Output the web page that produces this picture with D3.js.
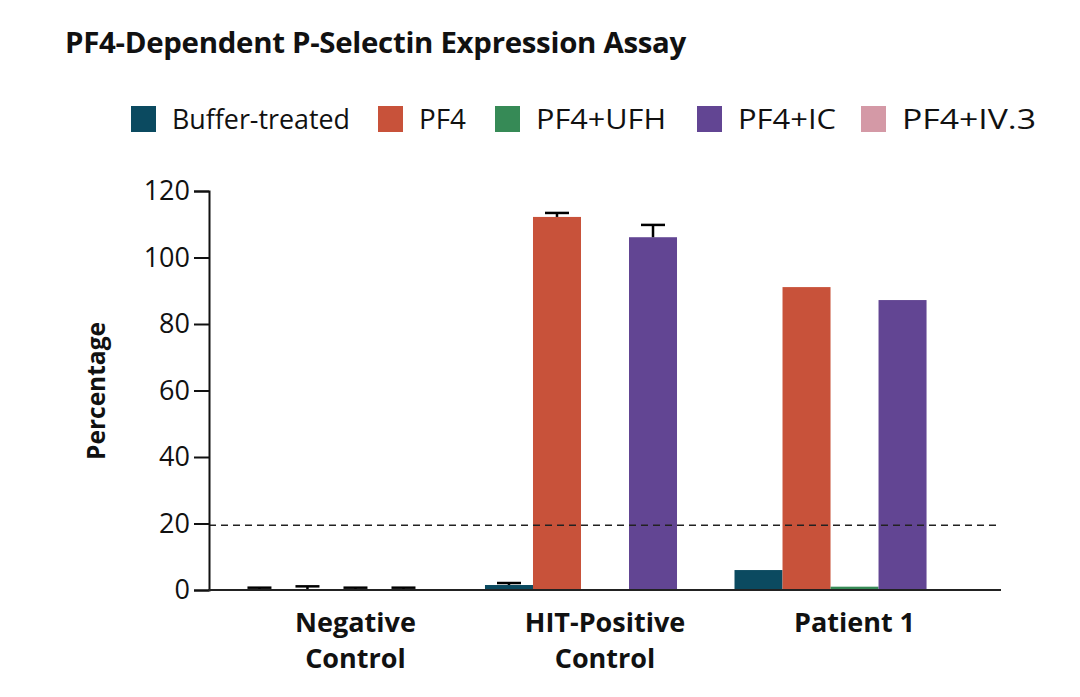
<!DOCTYPE html>
<html><head><meta charset="utf-8">
<script src="https://cdn.jsdelivr.net/npm/d3@7"></script>
<style>body{margin:0;background:#fff;} svg{display:block;} text{font-family:"Open Sans",Lato,sans-serif;fill:#111;}</style>
</head><body><svg id="c" width="1080" height="697"></svg>
<script>
const groups = ["Negative Control", "HIT-Positive Control", "Patient 1"];
const groupLines = [["Negative","Control"],["HIT-Positive","Control"],["Patient 1"]];
const series = ["Buffer-treated","PF4","PF4+UFH","PF4+IC","PF4+IV.3"];
const colors = ["#0b4a60","#c8523a","#368a56","#624593","#d499a6"];
const values = [
  [0, 0.3, 0, 0, 0],
  [1.5, 112.2, 0, 106.1, 0],
  [6.0, 91.1, 1.0, 87.2, 0]
];
const errTop = [
  [0.7, 1.1, 0.7, 0.7, null],
  [2.1, 113.4, null, 109.8, null],
  [null, null, null, null, null]
];
const yTicks = [0,20,40,60,80,100,120];
const threshold = 19.5;

// layout (not data)
const legX = [131,378,495,697,861];
const legTextW = [178,47,130,98,134];

const svg = d3.select("#c");
const y = d3.scaleLinear().domain([0,120]).range([590,191]);
const x0 = d3.scaleBand().domain(groups).range([209,1001]).paddingInner(0.038).paddingOuter(0.106);
const x1 = d3.scaleBand().domain(series).range([0,x0.bandwidth()]);

svg.append("text").attr("x",65).attr("y",53).attr("font-size",29).attr("font-weight",700).attr("letter-spacing",-0.3)
  .attr("textLength",621).attr("lengthAdjust","spacingAndGlyphs").text("PF4-Dependent P-Selectin Expression Assay");

// legend
const leg = svg.append("g");
series.forEach((s,i)=>{
  leg.append("rect").attr("x",legX[i]).attr("y",106).attr("width",25).attr("height",26).attr("fill",colors[i]);
  leg.append("text").attr("x",legX[i]+41).attr("y",128.5).attr("font-size",28)
    .attr("textLength",legTextW[i]).attr("lengthAdjust","spacingAndGlyphs").text(s);
});

// bars
const g = svg.append("g");
groups.forEach((grp,gi)=>{
  series.forEach((s,si)=>{
    const v = values[gi][si];
    const bx = x0(grp)+x1(s);
    if(v>0) g.append("rect").attr("x",bx).attr("y",y(v)).attr("width",x1.bandwidth()).attr("height",y(0)-y(v)).attr("fill",colors[si]);
    const e = errTop[gi][si];
    if(e!=null){
      const cx = bx + x1.bandwidth()/2;
      g.append("line").attr("x1",cx).attr("x2",cx).attr("y1",y(v)).attr("y2",y(e)).attr("stroke","#000").attr("stroke-width",2.5);
      g.append("line").attr("x1",cx-12).attr("x2",cx+12).attr("y1",y(e)).attr("y2",y(e)).attr("stroke","#000").attr("stroke-width",2.5);
    }
  });
});

// threshold line
svg.append("line").attr("x1",209).attr("x2",1001).attr("y1",y(threshold)).attr("y2",y(threshold))
  .attr("stroke","#222").attr("stroke-width",1.5).attr("stroke-dasharray","7,5");

// y axis
const yAxis = d3.axisLeft(y).tickValues(yTicks).tickSize(15).tickPadding(4);
const ya = svg.append("g").attr("transform","translate(209,0)").call(yAxis);
ya.select(".domain").attr("stroke","#111").attr("stroke-width",2);
ya.selectAll(".tick line").attr("stroke","#111").attr("stroke-width",2);
ya.selectAll(".tick text").attr("font-size",27).attr("font-family","'Open Sans',sans-serif").attr("fill","#111");

// x axis line
svg.append("line").attr("x1",208).attr("x2",1001).attr("y1",y(0)).attr("y2",y(0)).attr("stroke","#222").attr("stroke-width",2);

// group labels
groups.forEach((grp,gi)=>{
  const cx = x0(grp)+x0.bandwidth()/2;
  const t = svg.append("text").attr("x",cx).attr("y",632).attr("text-anchor","middle").attr("font-size",27).attr("font-weight",700);
  groupLines[gi].forEach((ln,li)=>t.append("tspan").attr("x",cx).attr("dy",li===0?0:36).text(ln));
});

svg.append("text").attr("transform","translate(105,391) rotate(-90)").attr("text-anchor","middle").attr("font-size",24.5).attr("font-weight",700).text("Percentage");
</script></body></html>
